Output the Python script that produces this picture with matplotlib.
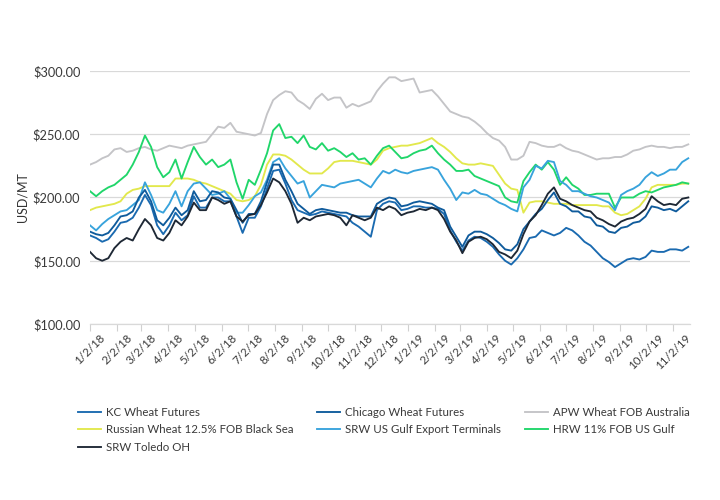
import matplotlib
matplotlib.use("Agg")
import matplotlib.pyplot as plt
import pandas as pd

plt.rcParams['font.family'] = ['Lato', 'DejaVu Sans']

# Weekly readings, 2018-01-02 .. 2019-11-19
dates = pd.date_range("2018-01-02", periods=99, freq="7D")

kc_wheat = [170,168,165,167,173,180,181,184,192,202, 194,178,171,178,188,182,186,201,192,192,
            200,200,197,197,185,172,184,184,193,207, 221,222,211,198,190,188,186,187,189,188,
            187,186,185,180,177,173,169,190,195,197,
            196,190,191,193,193,192,192,191,187,174, 165,158,166,169,168,165,161,155,150,147,
            152,159,168,169,174,172,170,172,176,174, 170,165,162,157,152,149,145,148,151,152,
            151,153,158,157,157,159,159,158,161]

chicago_wheat = [173,171,170,172,178,185,186,189,200,206, 197,182,178,184,192,186,190,205,197,198,
                 205,204,200,199,190,180,187,187,197,212, 226,226,214,205,195,191,187,190,191,190,
                 189,188,188,186,185,185,185,195,198,200,
                 199,193,194,196,197,196,195,192,190,177, 169,161,170,173,173,171,168,164,159,158,
                 163,175,181,187,191,198,204,195,193,189, 189,185,184,178,177,173,172,176,177,180,
                 181,185,193,192,190,191,189,193,197]

apw_australia = [226,228,231,233,238,239,236,237,239,240, 238,237,239,241,240,239,241,242,243,244,
                 250,256,255,259,252,251,250,249,251,266, 277,281,284,283,277,274,270,278,282,277,
                 279,279,271,274,272,274,276,284,290,295,
                 295,292,293,294,283,284,285,280,274,268, 266,264,263,260,256,251,247,245,240,230,
                 230,233,244,243,241,240,240,242,239,237, 236,234,232,230,231,231,232,232,234,237,
                 238,240,241,240,240,239,240,240,242]

russian_black_sea = [190,192,193,194,195,197,203,206,207,209, 209,209,209,209,215,215,215,214,212,211,
                     209,207,205,203,198,197,198,201,210,226, 234,234,233,230,226,222,219,219,219,223,
                     228,229,229,229,228,227,226,230,237,239,
                     240,241,241,242,243,245,247,243,240,236, 231,227,226,226,227,226,225,218,211,207,
                     206,188,196,197,197,196,195,195,195,194, 194,194,194,194,193,193,188,186,187,190,
                     193,199,208,210,210,210,210,211,211]

srw_gulf = [178,174,179,183,186,189,190,194,198,212, 202,190,188,195,205,193,205,211,212,207,
            202,203,205,199,188,188,194,201,204,214, 228,231,223,217,211,213,200,205,210,209,
            208,211,212,213,214,211,208,215,221,219,
            222,220,219,221,222,223,224,222,214,207, 198,204,203,206,203,202,199,196,194,191,
            189,208,214,225,223,229,228,213,210,205, 205,203,201,200,198,196,190,202,205,207,
            210,216,220,217,219,222,222,228,231]

hrw_gulf = [205,201,205,208,210,214,218,226,236,249, 240,224,216,220,230,215,228,240,232,226,
            230,224,226,230,212,199,214,210,222,235, 253,258,247,248,243,249,240,238,243,237,
            239,236,232,235,230,231,226,233,239,241,
            236,231,232,235,237,238,241,235,230,226, 221,221,222,217,215,213,211,209,200,197,
            196,213,220,226,222,228,222,210,216,210, 207,202,202,203,203,203,192,200,200,200,
            203,205,204,206,208,209,210,212,211]

srw_toledo = [157,152,150,152,160,165,168,166,175,183, 178,168,166,172,182,178,185,196,190,190,
              200,198,195,197,185,181,186,187,194,204, 215,212,205,195,180,184,182,185,186,187,
              186,184,178,186,184,182,184,192,190,193,
              191,186,188,189,191,190,192,190,183,173, 166,156,165,168,169,167,163,157,155,152,
              158,171,181,186,194,203,208,199,197,194, 192,190,189,184,182,179,177,181,183,184,
              187,191,201,197,194,195,194,199,200]

series_names = ["KC Wheat Futures", "Chicago Wheat Futures", "APW Wheat FOB Australia",
                "Russian Wheat 12.5% FOB Black Sea", "SRW US Gulf Export Terminals",
                "HRW 11% FOB US Gulf", "SRW Toledo OH"]
series_values = [kc_wheat, chicago_wheat, apw_australia, russian_black_sea,
                 srw_gulf, hrw_gulf, srw_toledo]
series_colors = ["#1a6ab0", "#0f5b9c", "#c4c4c7", "#e2e84c", "#38a3dc", "#20d66a", "#1e2835"]
draw_order = [2, 3, 5, 4, 0, 1, 6]

tick_dates = pd.date_range("2018-01-01", "2019-11-01", freq="MS") + pd.Timedelta(days=1)
tick_labels = [f"{d.month}/{d.day}/{d.strftime('%y')}" for d in tick_dates]
y_ticks = [100, 150, 200, 250, 300]
y_tick_labels = ["$100.00", "$150.00", "$200.00", "$250.00", "$300.00"]

fig = plt.figure(figsize=(7.2, 5.0), dpi=100)
ax = fig.add_axes([90/720, 1-324/500, 600/720, 253/500])

lines = {}
for i in draw_order:
    ln, = ax.plot(dates, series_values[i], color=series_colors[i], lw=1.35,
                  label=series_names[i], solid_joinstyle='round')
    lines[i] = ln

ax.set_xlim(pd.Timestamp("2018-01-02"), pd.Timestamp("2019-11-21"))
ax.set_ylim(100, 300)
ax.set_yticks(y_ticks)
ax.set_yticklabels(y_tick_labels, fontsize=9.2, color="#3a3a3a")
ax.set_xticks(tick_dates)
ax.set_xticklabels(tick_labels, rotation=45, ha="center", fontsize=8.3, color="#3a3a3a")
ax.tick_params(axis='y', length=0, pad=7)
ax.tick_params(axis='x', length=5, color="#d0d0d0", width=0.8, pad=1)
ax.grid(axis='y', color="#d9d9d9", lw=0.9)
ax.set_axisbelow(True)
for s in ['top', 'right', 'left']:
    ax.spines[s].set_visible(False)
ax.spines['bottom'].set_color("#d9d9d9")
ax.spines['bottom'].set_linewidth(0.9)
ax.set_ylabel("USD/MT", fontsize=9, color="#333333")
ax.yaxis.set_label_coords((28 - 90) / 600, 0.5)

leg_order = [0, 3, 6, 1, 4, 2, 5]
leg = fig.legend([lines[i] for i in leg_order], [series_names[i] for i in leg_order],
                 loc="upper left", bbox_to_anchor=(78/720, 1-407/500), ncol=3,
                 frameon=False, fontsize=8.3, handlelength=2.0, handletextpad=0.4,
                 columnspacing=2.1, borderpad=0, borderaxespad=0, labelspacing=0.55)
for t in leg.get_texts():
    t.set_color("#3a3a3a")

fig.savefig("out.png", dpi=100)
